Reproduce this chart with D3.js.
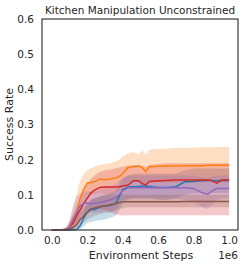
<!DOCTYPE html>
<html>
<head>
<meta charset="utf-8">
<script src="https://cdn.jsdelivr.net/npm/d3@7"></script>
<style>
  body { margin: 0; background: #fff; }
  svg { display: block; font-family: "DejaVu Sans", sans-serif; }
</style>
</head>
<body>
<svg id="chart" width="244" height="267"></svg>
<script>
// environment steps, in millions
const steps = [0, .05, .08, .10, .12, .14, .16, .18, .20, .22, .24, .27, .30, .33, .36, .38, .40,
  .43, .46, .49, .51, .53, .55, .60, .65, .70, .75, .80, .85, .88, .90, .93, .96, 1.0];

const blueMean = [0, 0, 0, 0, 0, .001, .012, .034, .05, .06, .058, .066, .068, .07, .075, .095, .115,
  .122, .123, .124, .125, .125, .124, .121, .121, .123, .137, .138, .141, .141, .141, .14, .141, .141];
const blueHi = [0, 0, 0, 0, .002, .01, .03, .055, .075, .085, .09, .095, .1, .105, .11, .13, .145,
  .155, .16, .16, .16, .16, .16, .16, .16, .16, .17, .175, .175, .175, .175, .175, .175, .175];
const blueLo = [0, 0, 0, 0, 0, 0, .002, .01, .02, .022, .025, .028, .03, .035, .04, .055, .075,
  .085, .09, .09, .09, .09, .09, .085, .085, .09, .1, .105, .105, .105, .105, .105, .105, .105];

const orangeMean = [0, 0, .002, .01, .03, .05, .09, .115, .133, .135, .137, .145, .143, .145, .148, .152, .16,
  .178, .18, .182, .178, .166, .18, .181, .182, .182, .183, .183, .183, .184, .184, .184, .184, .184];
const orangeHi = [0, 0, .005, .025, .06, .1, .14, .16, .17, .175, .18, .185, .188, .19, .195, .2, .21,
  .218, .222, .215, .228, .215, .228, .23, .232, .234, .234, .234, .235, .235, .235, .236, .236, .236];
const orangeLo = [0, 0, 0, 0, .005, .015, .04, .07, .09, .1, .1, .105, .1, .1, .105, .11, .12,
  .135, .14, .14, .135, .125, .135, .135, .135, .135, .135, .135, .135, .135, .135, .135, .135, .135];

const redMean = [0, 0, .002, .008, .02, .04, .057, .075, .09, .105, .113, .121, .122, .122, .122, .123, .125,
  .128, .14, .14, .132, .128, .138, .14, .141, .142, .142, .142, .142, .142, .141, .133, .142, .142];
const redHi = [0, 0, .005, .02, .045, .07, .09, .11, .13, .145, .155, .165, .17, .172, .175, .178, .18,
  .183, .185, .185, .182, .18, .185, .188, .19, .19, .19, .19, .19, .19, .19, .19, .19, .19];
const redLo = [0, 0, 0, 0, .002, .01, .025, .04, .05, .055, .058, .06, .058, .05, .045, .042, .042,
  .042, .042, .042, .042, .042, .042, .042, .042, .042, .042, .042, .042, .042, .042, .042, .042, .042];

const purpleMean = [0, 0, .002, .008, .03, .05, .069, .075, .077, .075, .076, .078, .082, .086, .092, .1, .112,
  .12, .12, .12, .12, .12, .12, .12, .12, .12, .12, .118, .105, .102, .11, .118, .118, .118];
const purpleHi = [0, 0, .005, .03, .07, .095, .105, .11, .11, .11, .11, .115, .12, .125, .13, .14, .15,
  .155, .155, .155, .155, .155, .155, .155, .155, .155, .155, .155, .15, .148, .152, .155, .155, .155];
const purpleLo = [0, 0, 0, 0, .005, .02, .035, .045, .05, .05, .05, .05, .052, .055, .06, .07, .085,
  .09, .09, .09, .09, .09, .09, .09, .09, .09, .085, .08, .065, .06, .07, .085, .09, .09];

const brownMean = [0, 0, 0, .003, .007, .015, .03, .04, .05, .058, .063, .066, .068, .072, .075, .078, .08,
  .08, .08, .08, .08, .08, .08, .08, .08, .08, .081, .081, .081, .081, .081, .081, .081, .081];
const brownHi = [0, 0, .002, .01, .02, .035, .05, .065, .075, .085, .09, .095, .098, .1, .1, .1, .1,
  .1, .1, .1, .1, .1, .1, .1, .1, .1, .1, .1, .1, .1, .1, .1, .1, .1];
const brownLo = [0, 0, 0, 0, 0, .003, .012, .02, .03, .035, .04, .045, .048, .05, .055, .06, .062,
  .065, .065, .065, .065, .065, .065, .065, .065, .065, .065, .065, .065, .065, .065, .065, .065, .065];

const xTicks = [0, 0.2, 0.4, 0.6, 0.8, 1.0];
const yTicks = [0, 0.1, 0.2, 0.3, 0.4, 0.5, 0.6];

const series = [
  { color: "#1f77b4", mean: blueMean, lo: blueLo, hi: blueHi },
  { color: "#ff7f0e", mean: orangeMean, lo: orangeLo, hi: orangeHi },
  { color: "#d62728", mean: redMean, lo: redLo, hi: redHi },
  { color: "#9467bd", mean: purpleMean, lo: purpleLo, hi: purpleHi },
  { color: "#8c564b", mean: brownMean, lo: brownLo, hi: brownHi },
];

const svg = d3.select("#chart");
const plotLeft = 42, plotRight = 238, plotTop = 19, plotBottom = 230;

const x = d3.scaleLinear().domain([-0.055, 1.05]).range([plotLeft, plotRight]);
const y = d3.scaleLinear().domain([0, 0.6]).range([plotBottom, plotTop]);

// bands first, then lines on top
const area = d3.area()
  .x((d, i) => x(steps[i]))
  .y0((d) => y(d[0]))
  .y1((d) => y(d[1]));
const line = d3.line()
  .x((d, i) => x(steps[i]))
  .y((d) => y(d));

series.forEach((s) => {
  svg.append("path")
    .attr("d", area(s.lo.map((v, i) => [v, s.hi[i]])))
    .attr("fill", s.color)
    .attr("fill-opacity", 0.25);
});
series.forEach((s) => {
  svg.append("path")
    .attr("d", line(s.mean))
    .attr("fill", "none")
    .attr("stroke", s.color)
    .attr("stroke-width", 1.5);
});

// frame
svg.append("rect")
  .attr("x", plotLeft).attr("y", plotTop)
  .attr("width", plotRight - plotLeft).attr("height", plotBottom - plotTop)
  .attr("fill", "none")
  .attr("stroke", "#3a3a3a")
  .attr("stroke-width", 1.2);

// axes, no tick marks
const xAxis = svg.append("g")
  .attr("transform", `translate(0,${plotBottom})`)
  .call(d3.axisBottom(x).tickValues(xTicks).tickSize(0).tickPadding(7).tickFormat(d3.format(".1f")));
const yAxis = svg.append("g")
  .attr("transform", `translate(${plotLeft},0)`)
  .call(d3.axisLeft(y).tickValues(yTicks).tickSize(0).tickPadding(8).tickFormat(d3.format(".1f")));
[xAxis, yAxis].forEach((g) => {
  g.select(".domain").remove();
  g.selectAll("text")
    .attr("font-family", "DejaVu Sans, sans-serif")
    .attr("font-size", 10.5)
    .attr("fill", "#262626");
});

svg.append("text")
  .attr("x", (plotLeft + plotRight) / 2).attr("y", 14)
  .attr("text-anchor", "middle")
  .attr("font-size", 10.5).attr("fill", "#262626")
  .text("Kitchen Manipulation Unconstrained");

svg.append("text")
  .attr("x", 141).attr("y", 259)
  .attr("text-anchor", "middle")
  .attr("font-size", 11).attr("fill", "#262626")
  .text("Environment Steps");

svg.append("text")
  .attr("x", plotRight).attr("y", 259)
  .attr("text-anchor", "end")
  .attr("font-size", 10.5).attr("fill", "#262626")
  .text("1e6");

svg.append("text")
  .attr("transform", `translate(13,${(plotTop + plotBottom) / 2}) rotate(-90)`)
  .attr("text-anchor", "middle")
  .attr("font-size", 11).attr("fill", "#262626")
  .text("Success Rate");
</script>
</body>
</html>
